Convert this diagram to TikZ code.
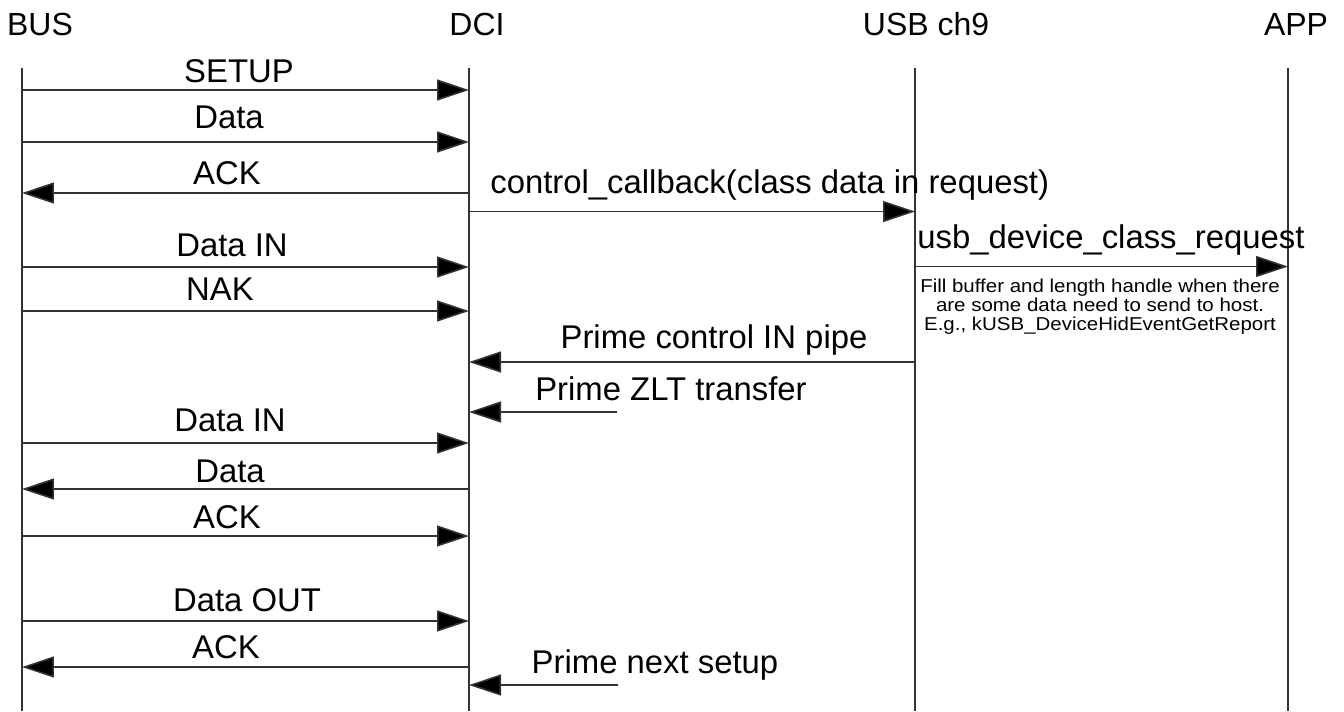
\documentclass[tikz,border=0pt]{standalone}
\usepackage{fontspec}
\setmainfont{Liberation Sans}
\newfontfamily\notefont[FakeStretch=1.1]{Liberation Sans}
\usetikzlibrary{arrows.meta}
\begin{document}
\begin{tikzpicture}[x=0.02cm,y=-0.02cm,
  life/.style={line width=0.9pt, draw=black!80},
  msg/.style={line width=0.9pt, draw=black!80, -{Triangle[length=0.64cm,width=0.42cm,fill=black]}},
  hdr/.style={anchor=base, inner sep=0pt, font=\fontsize{18.2}{21}\selectfont},
  lbl/.style={anchor=base, inner sep=0pt, font=\fontsize{18.7}{21}\selectfont},
  lblw/.style={anchor=base west, inner sep=0pt, font=\fontsize{18.7}{21}\selectfont},
  note/.style={align=center, inner sep=0pt, font=\notefont\fontsize{10.6}{10.8}\selectfont}]
\useasboundingbox (0,0) rectangle (1344,711);
% headers
\node[hdr] (hbus) at (40,35) {BUS};
\node[hdr] (hdci) at (477,35) {DCI};
\node[hdr] (husb) at (926,35) {USB ch9};
\node[hdr] (happ) at (1296,35) {APP};
% lifelines
\coordinate (busT) at (22,68);  \coordinate (busB) at (22,711);
\coordinate (dciT) at (469,68); \coordinate (dciB) at (469,711);
\coordinate (usbT) at (915,68); \coordinate (usbB) at (915,711);
\coordinate (appT) at (1288,68); \coordinate (appB) at (1288,711);
\draw[life] (busT) -- (busB);
\draw[life] (dciT) -- (dciB);
\draw[life] (usbT) -- (usbB);
\draw[life] (appT) -- (appB);
% message end points
\foreach \n/\y in {1/90,2/142,3/193,4/211.5,5/267,6/266.5,7/311,8/362,9/412,10/443,11/489,12/536,13/621,14/667,15/685}{
  \coordinate (b\n) at (22,\y);
  \coordinate (d\n) at (469,\y);
  \coordinate (u\n) at (915,\y);
  \coordinate (a\n) at (1288,\y);
}
\coordinate (z9) at (617,412);
\coordinate (z15) at (618,685);
% messages
\draw[msg] (b1) -- (d1);
\node[lbl] (l1) at (239,82) {SETUP};
\draw[msg] (b2) -- (d2);
\node[lbl] (l2) at (229,128) {Data};
\draw[msg] (d3) -- (b3);
\node[lbl] (l3) at (227,184) {ACK};
\draw[msg] (d4) -- (u4);
\node[lblw] (l4) at (490,193) {control\_callback(class data in request)};
\draw[msg] (b5) -- (d5);
\node[lbl] (l5) at (232,256) {Data IN};
\draw[msg] (u6) -- (a6);
\node[lblw] (l6) at (917,248) {usb\_device\_class\_request};
\node[note] (n6) at (1100,307) {Fill buffer and length handle when there\\are some data need to send to host.\\E.g., kUSB\_DeviceHidEventGetReport};
\draw[msg] (b7) -- (d7);
\node[lbl] (l7) at (220,300) {NAK};
\draw[msg] (u8) -- (d8);
\node[lbl] (l8) at (714,348) {Prime control IN pipe};
\draw[msg] (z9) -- (d9);
\node[lbl] (l9) at (671,400) {Prime ZLT transfer};
\draw[msg] (b10) -- (d10);
\node[lbl] (l10) at (230,431) {Data IN};
\draw[msg] (d11) -- (b11);
\node[lbl] (l11) at (230,482) {Data};
\draw[msg] (b12) -- (d12);
\node[lbl] (l12) at (227,528) {ACK};
\draw[msg] (b13) -- (d13);
\node[lbl] (l13) at (247,611) {Data OUT};
\draw[msg] (d14) -- (b14);
\node[lbl] (l14) at (226,658) {ACK};
\draw[msg] (z15) -- (d15);
\node[lbl] (l15) at (655,673) {Prime next setup};
\end{tikzpicture}
\end{document}
